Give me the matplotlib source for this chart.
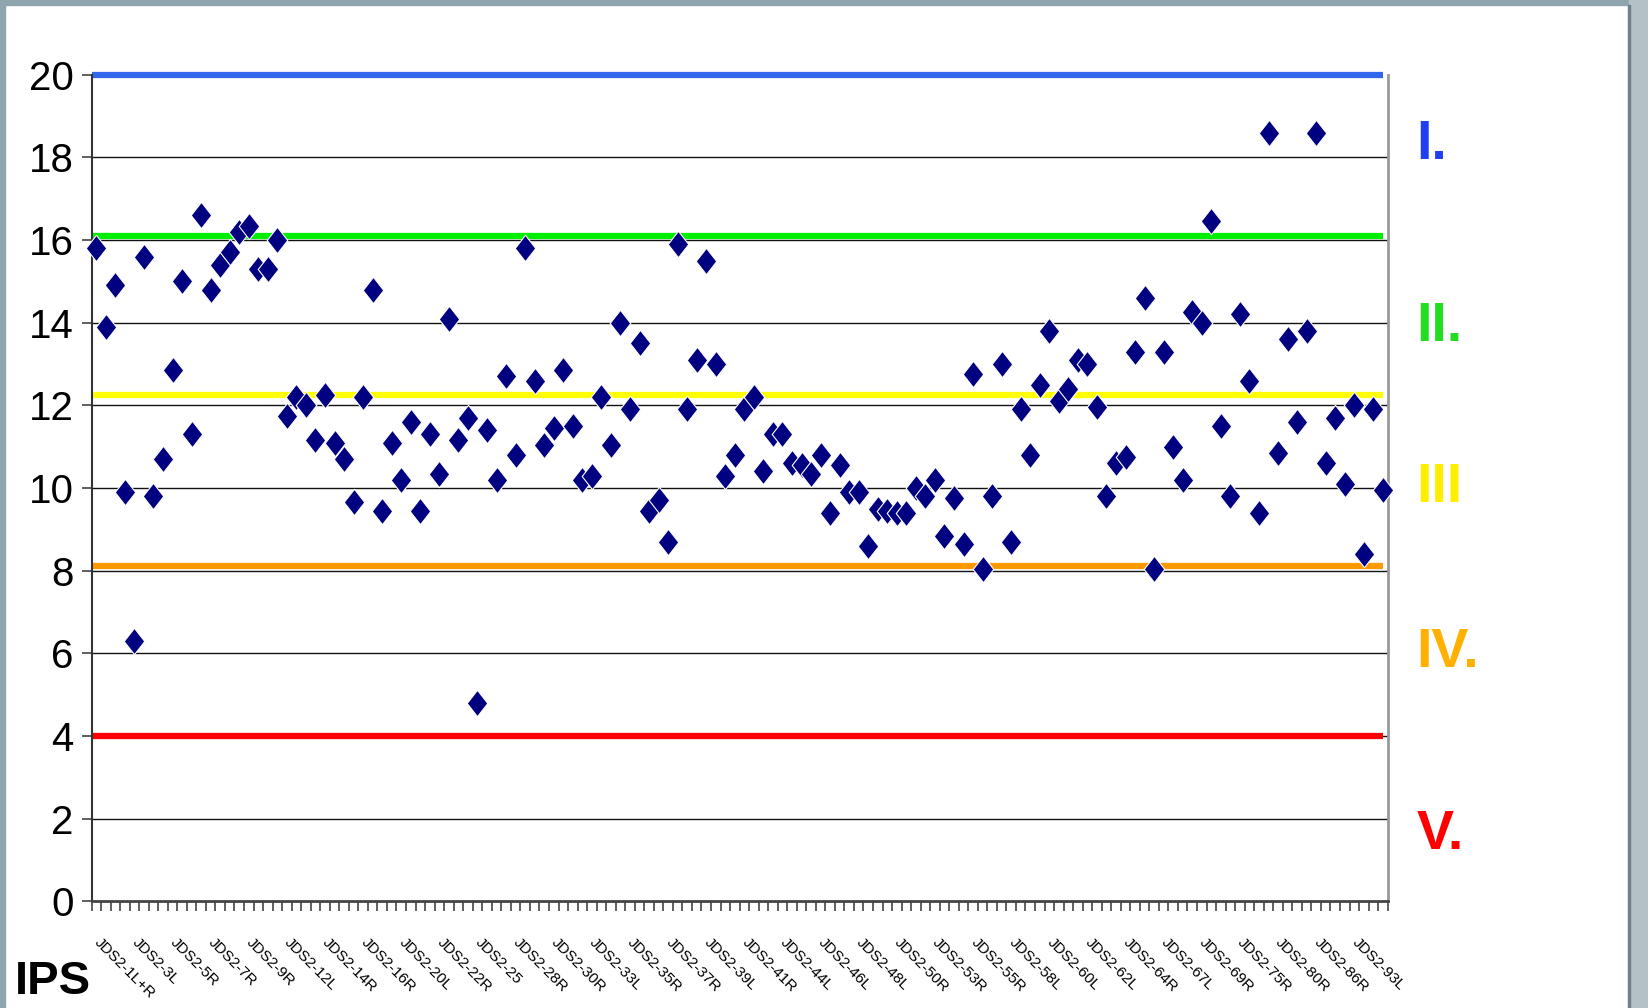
import matplotlib
matplotlib.use("Agg")
import matplotlib.pyplot as plt
from matplotlib.patches import Rectangle
from matplotlib.path import Path

FONTS = ["Liberation Sans Narrow", "Liberation Sans", "DejaVu Sans"]
plt.rcParams["font.family"] = FONTS

# IPS values per sample, in plotting order
ips = [15.8, 13.9, 14.9, 9.9, 6.3, 15.6, 9.8, 10.7, 12.85, 15.0,
       11.3, 16.6, 14.8, 15.4, 15.7, 16.2, 16.35, 15.3, 15.3, 16.0,
       11.75, 12.2, 12.0, 11.15, 12.25, 11.1, 10.7, 9.65, 12.2, 14.8,
       9.45, 11.1, 10.2, 11.6, 9.45, 11.3, 10.35, 14.1, 11.15, 11.7,
       4.8, 11.4, 10.2, 12.7, 10.8, 15.8, 12.6, 11.05, 11.45, 12.85,
       11.5, 10.2, 10.3, 12.2, 11.05, 14.0, 11.9, 13.5, 9.45, 9.7,
       8.7, 15.9, 11.9, 13.1, 15.5, 13.0, 10.3, 10.8, 11.9, 12.2,
       10.4, 11.3, 11.3, 10.6, 10.55, 10.35, 10.8, 9.4, 10.55, 9.9,
       9.9, 8.6, 9.5, 9.45, 9.4, 9.4, 10.0, 9.8, 10.2, 8.85,
       9.75, 8.65, 12.75, 8.05, 9.8, 13.0, 8.7, 11.9, 10.8, 12.5,
       13.8, 12.1, 12.4, 13.1, 13.0, 11.95, 9.8, 10.6, 10.75, 13.3,
       14.6, 8.05, 13.3, 11.0, 10.2, 14.25, 14.0, 16.45, 11.5, 9.8,
       14.2, 12.6, 9.4, 18.6, 10.85, 13.6, 11.6, 13.8, 18.6, 10.6,
       11.7, 10.1, 12.0, 8.4, 11.9, 9.95]

# only every 4th sample is labelled on the axis
tick_names = ["JDS2-1L+R", "JDS2-3L", "JDS2-5R", "JDS2-7R", "JDS2-9R", "JDS2-12L",
              "JDS2-14R", "JDS2-16R", "JDS2-20L", "JDS2-22R", "JDS2-25", "JDS2-28R",
              "JDS2-30R", "JDS2-33L", "JDS2-35R", "JDS2-37R", "JDS2-39L", "JDS2-41R",
              "JDS2-44L", "JDS2-46L", "JDS2-48L", "JDS2-50R", "JDS2-53R", "JDS2-55R",
              "JDS2-58L", "JDS2-60L", "JDS2-62L", "JDS2-64R", "JDS2-67L", "JDS2-69R",
              "JDS2-75R", "JDS2-80R", "JDS2-86R", "JDS2-93L"]
label_step = 4

# class limits and their labels
limits = [20.0, 16.1, 12.25, 8.12, 4.0]
limit_colors = ["#3366ee", "#00ee00", "#ffff00", "#ff9900", "#ff0000"]
classes = ["I.", "II.", "III", "IV.", "V."]
class_y = [18.3, 13.9, 10.0, 6.0, 1.6]
class_colors = ["#1f3ff0", "#22dd22", "#ffee00", "#ffb000", "#ff0000"]


def main():
    n = len(ips)
    x = list(range(n))
    fig = plt.figure(figsize=(16.49, 10.08), dpi=100)
    ax = fig.add_axes([0.0555, 0.1058, 0.786, 0.8201])

    # slide frame
    fig.patches.append(Rectangle((0, 0.995), 1, 0.005, transform=fig.transFigure,
                                 color="#8fa5ae", zorder=0))
    fig.patches.append(Rectangle((0, 0), 0.003, 1, transform=fig.transFigure,
                                 color="#8fa5ae", zorder=0))
    fig.patches.append(Rectangle((0.988, 0), 0.012, 1, transform=fig.transFigure,
                                 color="#b4c2c8", zorder=0))
    fig.patches.append(Rectangle((0.987, 0), 0.0015, 0.995, transform=fig.transFigure,
                                 color="#6f8088", zorder=0))

    ax.set_xlim(-0.5, n - 0.5)
    ax.set_ylim(0, 20)
    ax.set_yticks(range(0, 21, 2))
    for v in range(2, 20, 2):
        ax.axhline(v, color="#111111", lw=1.0, zorder=1)

    for lim, c in zip(limits, limit_colors):
        ax.plot([-0.5, n - 1], [lim, lim], color=c, lw=4.5, solid_capstyle="butt",
                zorder=2, clip_on=False)

    diamond = Path([(0, 1), (0.78, 0), (0, -1), (-0.78, 0), (0, 1)],
                   [Path.MOVETO, Path.LINETO, Path.LINETO, Path.LINETO, Path.CLOSEPOLY])
    ax.plot(x, ips, linestyle="none", marker=diamond, markersize=19,
            markerfacecolor="#000080", markeredgecolor="white", markeredgewidth=0.8,
            zorder=3, clip_on=False)

    # x ticks between categories, labels on every 4th category
    ax.set_xticks([i - 0.5 for i in range(n + 1)])
    ax.set_xticklabels([])
    ax.tick_params(axis="x", direction="out", length=7, width=1.2, color="#444444")
    ax.tick_params(axis="y", direction="out", length=7, width=1.2, color="#444444",
                   labelsize=29, pad=6)
    for k, name in enumerate(tick_names):
        ax.text(k * label_step, -0.95, name, rotation=-45, rotation_mode="anchor",
                ha="left", va="center", fontsize=11, family=FONTS)

    ax.spines["top"].set_visible(False)
    ax.spines["left"].set_color("#333333")
    ax.spines["left"].set_linewidth(1.5)
    ax.spines["bottom"].set_color("#444444")
    ax.spines["bottom"].set_linewidth(2)
    ax.spines["right"].set_color("#999999")
    ax.spines["right"].set_linewidth(2)

    tr = ax.get_yaxis_transform()
    for lab, yy, c in zip(classes, class_y, class_colors):
        ax.text(1.022, yy, lab, transform=tr, color=c, fontsize=40,
                fontweight="bold", ha="left", va="center", family=FONTS)

    fig.text(0.009, 0.004, "IPS", fontsize=34, fontweight="bold", ha="left",
             va="bottom", family=FONTS)

    fig.savefig("out.png", dpi=100)


if __name__ == "__main__":
    main()
